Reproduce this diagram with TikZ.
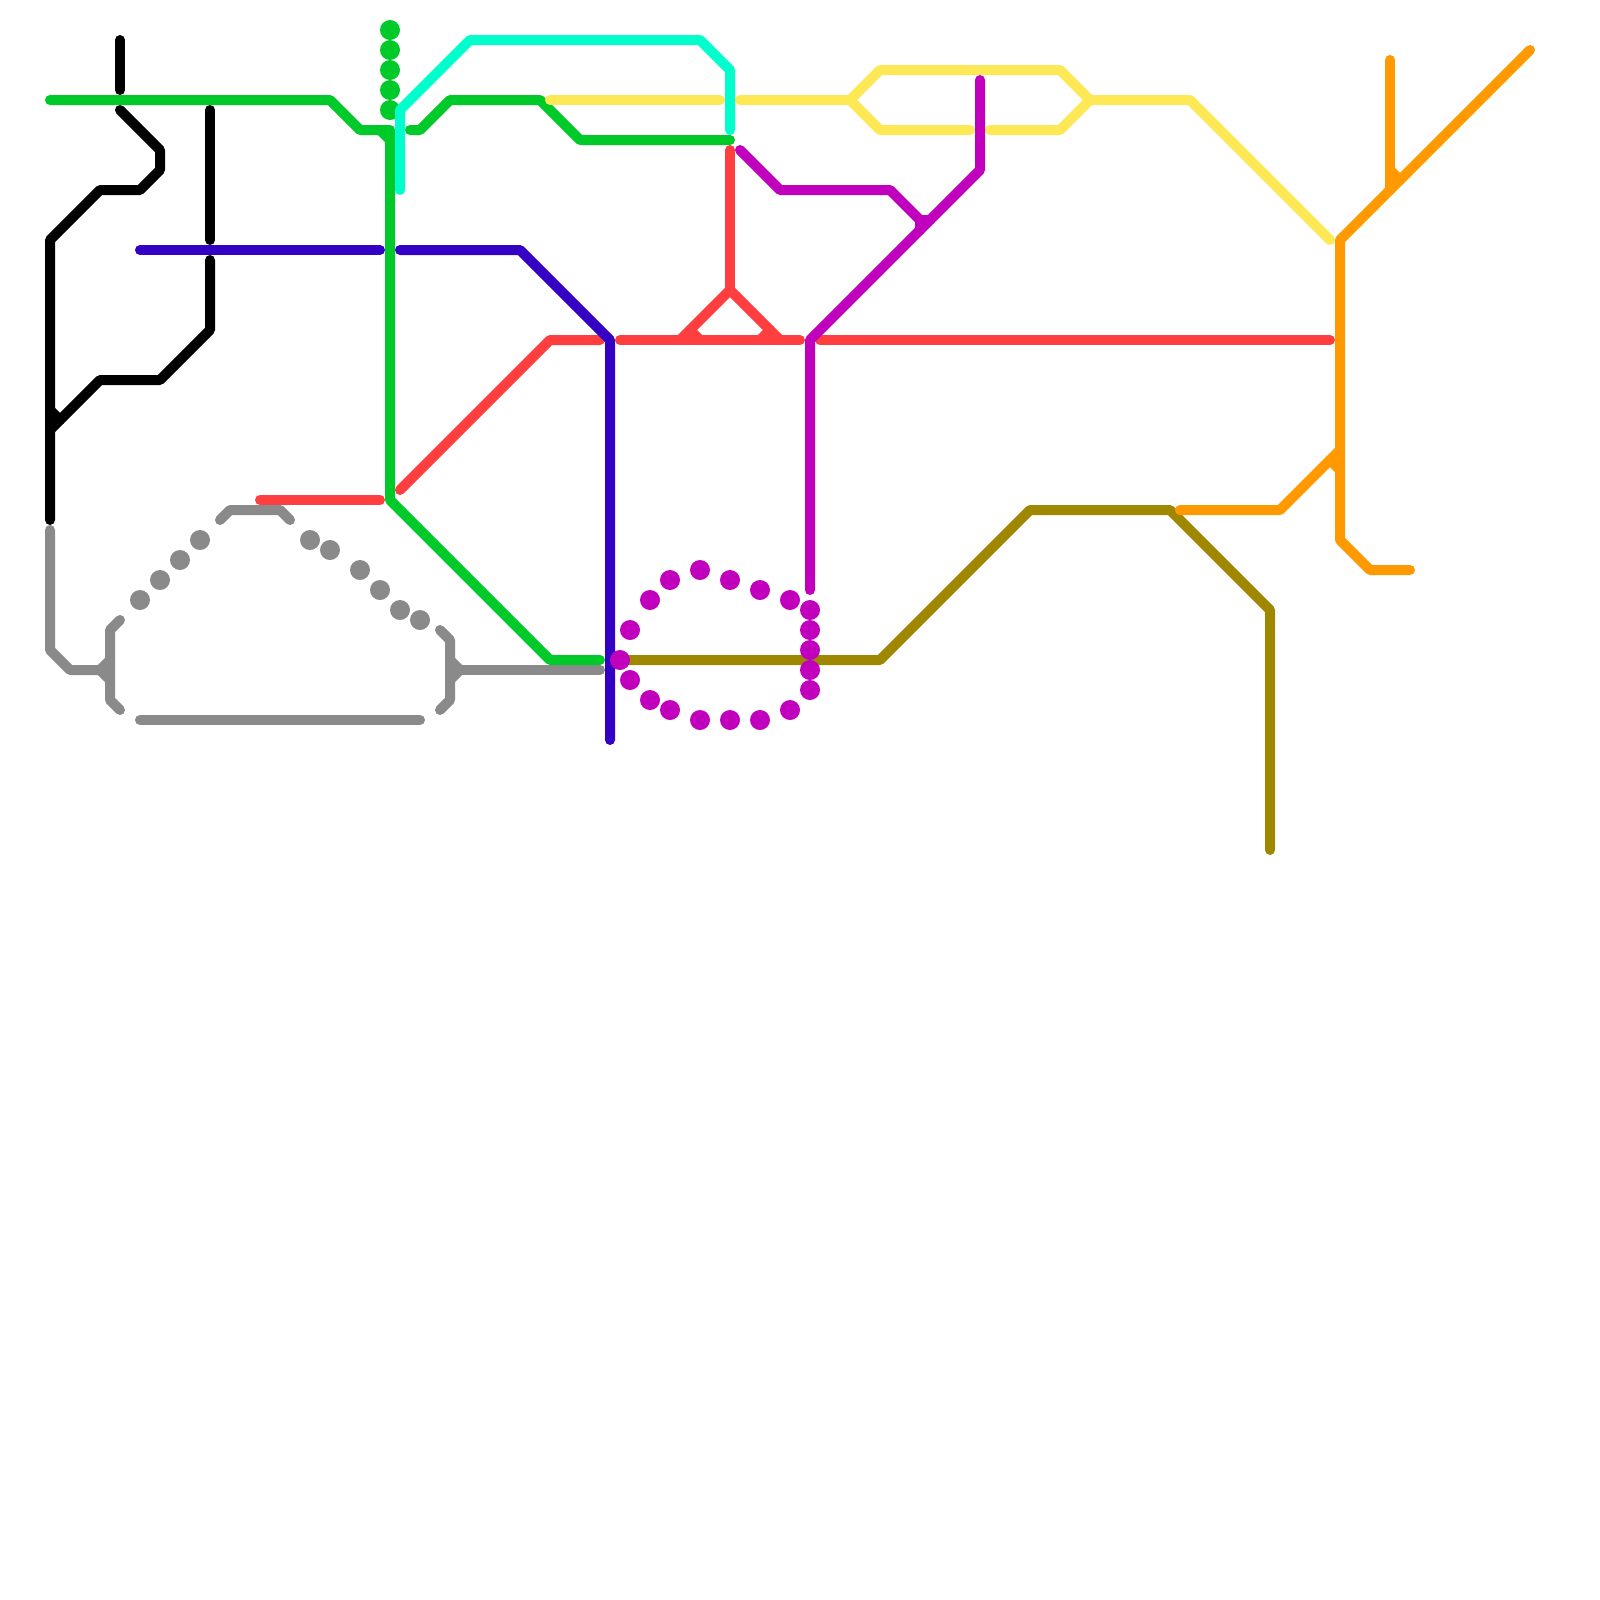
\documentclass[tikz,border=0pt]{standalone}
\definecolor{cblack}{HTML}{000000}
\definecolor{cgrey}{HTML}{8A8A8A}
\definecolor{cgreen}{HTML}{00CA2A}
\definecolor{cyell}{HTML}{FFE855}
\definecolor{ccyan}{HTML}{00FFCC}
\definecolor{cblue}{HTML}{3300C4}
\definecolor{cred}{HTML}{FF3F3F}
\definecolor{cmag}{HTML}{C000BD}
\definecolor{colive}{HTML}{9F8800}
\definecolor{corange}{HTML}{FF9900}
\tikzset{
  metro/.style={line width=2.5bp,line cap=round,line join=round},
  dotfill/.style={fill=#1,draw=none}
}
\begin{document}
\begin{tikzpicture}[x=0.25bp,y=-0.25bp]
\useasboundingbox (0,0) rectangle (1600,1600);
\fill[white] (0,0) rectangle (1600,1600);
% black
\draw[metro,cblack] (120,40) -- (120,90);
\draw[metro,cblack] (120,110) -- (160,150) -- (160,170) -- (140,190) -- (100,190) -- (50,240) -- (50,520);
\draw[metro,cblack] (210,110) -- (210,240);
\draw[metro,cblack] (210,260) -- (210,330) -- (160,380) -- (100,380) -- (50,430);
\draw[metro,cblack] (50,410) -- (60,420);
% grey
\draw[metro,cgrey] (50,530) -- (50,650) -- (70,670) -- (100,670) -- (110,660);
\draw[metro,cgrey] (100,670) -- (110,680);
\draw[metro,cgrey] (120,620) -- (110,630) -- (110,700) -- (120,710);
\draw[metro,cgrey] (220,520) -- (230,510) -- (280,510) -- (290,520);
\draw[metro,cgrey] (140,720) -- (420,720);
\draw[metro,cgrey] (440,630) -- (450,640) -- (450,700) -- (440,710);
\draw[metro,cgrey] (450,660) -- (460,670) -- (450,680);
\draw[metro,cgrey] (460,670) -- (600,670);
\foreach \x/\y in {140/600,160/580,180/560,200/540,310/540,330/550,360/570,380/590,400/610,420/620}
  \fill[dotfill=cgrey] (\x,\y) circle[radius=2.5bp];
% red
\draw[metro,cred] (260,500) -- (380,500);
\draw[metro,cred] (400,490) -- (550,340) -- (600,340);
\draw[metro,cred] (620,340) -- (800,340);
\draw[metro,cred] (820,340) -- (1330,340);
\draw[metro,cred] (730,150) -- (730,290);
\draw[metro,cred] (680,340) -- (730,290) -- (780,340);
\draw[metro,cred] (690,330) -- (700,340);
\draw[metro,cred] (770,330) -- (760,340);
% green
\foreach \y in {30,50,70,90,110}
  \fill[dotfill=cgreen] (390,\y) circle[radius=2.5bp];
\draw[metro,cgreen] (50,100) -- (330,100) -- (360,130) -- (390,130) -- (390,500) -- (550,660) -- (600,660);
\draw[metro,cgreen] (380,130) -- (390,140);
\draw[metro,cgreen] (410,130) -- (420,130) -- (450,100) -- (540,100) -- (580,140) -- (730,140);
% yellow
\draw[metro,cyell] (550,100) -- (720,100);
\draw[metro,cyell] (740,100) -- (850,100) -- (880,70) -- (1060,70) -- (1090,100) -- (1190,100) -- (1330,240);
\draw[metro,cyell] (850,100) -- (880,130) -- (970,130);
\draw[metro,cyell] (990,130) -- (1060,130) -- (1090,100);
% cyan
\draw[metro,ccyan] (400,190) -- (400,110) -- (470,40) -- (700,40) -- (730,70) -- (730,130);
% olive
\draw[metro,colive] (620,660) -- (880,660) -- (1030,510) -- (1170,510) -- (1270,610) -- (1270,850);
% blue
\draw[metro,cblue] (140,250) -- (380,250);
\draw[metro,cblue] (400,250) -- (520,250) -- (610,340) -- (610,740);
% magenta
\draw[metro,cmag] (740,150) -- (780,190) -- (890,190) -- (920,220) -- (920,230);
\draw[metro,cmag] (920,220) -- (930,220);
\draw[metro,cmag] (810,590) -- (810,340) -- (980,170) -- (980,80);
\foreach \x/\y in {620/660,630/630,650/600,670/580,700/570,730/580,760/590,790/600,810/610,810/630,810/650,810/670,810/690,790/710,760/720,730/720,700/720,670/710,650/700,630/680}
  \fill[dotfill=cmag] (\x,\y) circle[radius=2.5bp];
% orange
\draw[metro,corange] (1530,50) -- (1340,240) -- (1340,540) -- (1370,570) -- (1410,570);
\draw[metro,corange] (1390,60) -- (1390,190);
\draw[metro,corange] (1390,170) -- (1400,180);
\draw[metro,corange] (1180,510) -- (1280,510) -- (1340,450);
\draw[metro,corange] (1330,460) -- (1340,470);
\end{tikzpicture}
\end{document}
